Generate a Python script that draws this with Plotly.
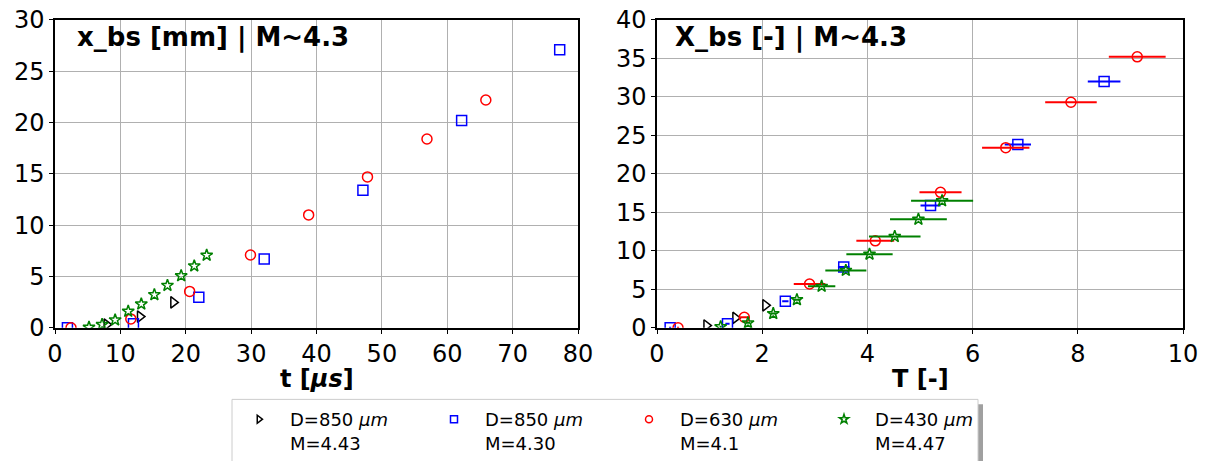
import plotly.graph_objects as go

# ---- data: left panel (t [us], x_bs [mm]) ----
t_k = [7.9, 13.0, 18.1]
x_k = [0.32, 1.10, 2.48]
t_b = [1.9, 12.0, 22.0, 32.0, 47.1, 62.2, 77.2]
x_b = [0.0, 0.39, 2.97, 6.7, 13.4, 20.2, 27.1]
t_r = [2.45, 11.6, 20.6, 29.9, 38.8, 47.8, 56.9, 65.9]
x_r = [0.0, 0.87, 3.55, 7.1, 11.0, 14.7, 18.4, 22.2]
t_g = [5.2, 7.2, 9.2, 11.2, 13.2, 15.2, 17.2, 19.3, 21.3, 23.2]
x_g = [0.06, 0.32, 0.77, 1.61, 2.32, 3.23, 4.13, 5.07, 6.03, 7.07]

# ---- data: right panel (T [-], X_bs [-], error on T) ----
T_k = [0.94, 1.49, 2.06]
X_k = [0.3, 1.29, 2.93]
T_b = [0.25, 1.34, 2.44, 3.55, 5.2, 6.86, 8.5]
X_b = [0.0, 0.52, 3.45, 7.9, 15.9, 23.8, 32.0]
E_b = [0.02, 0.04, 0.06, 0.11, 0.19, 0.25, 0.31]
T_r = [0.4, 1.66, 2.9, 4.15, 5.39, 6.63, 7.87, 9.13]
X_r = [0.0, 1.38, 5.7, 11.3, 17.6, 23.4, 29.3, 35.2]
E_r = [0.02, 0.08, 0.3, 0.36, 0.40, 0.45, 0.49, 0.54]
T_g = [1.21, 1.73, 2.21, 2.66, 3.13, 3.59, 4.04, 4.52, 4.97, 5.42]
X_g = [0.14, 0.65, 1.85, 3.66, 5.39, 7.46, 9.57, 11.86, 14.1, 16.5]
E_g = [0.02, 0.04, 0.05, 0.07, 0.26, 0.39, 0.44, 0.49, 0.54, 0.59]

names = ["D=850 <i>μm</i><br>M=4.43", "D=850 <i>μm</i><br>M=4.30",
         "D=630 <i>μm</i><br>M=4.1", "D=430 <i>μm</i><br>M=4.47"]
colors = ["black", "blue", "red", "green"]
symbols = ["triangle-right-open", "square-open", "circle-open", "star-open"]
sizes = [10, 10, 10, 9]

W, H = 1212, 461
def px(x): return x / W
def py(y): return (H - y) / H

fig = go.Figure()
left = [(t_k, x_k), (t_b, x_b), (t_r, x_r), (t_g, x_g)]
right = [(T_k, X_k, None), (T_b, X_b, E_b), (T_r, X_r, E_r), (T_g, X_g, E_g)]
for i in range(4):
    fig.add_trace(go.Scatter(
        x=left[i][0], y=left[i][1], mode="markers", name=names[i],
        marker=dict(symbol=symbols[i], color=colors[i], size=sizes[i],
                    line=dict(width=1.5, color=colors[i])),
        xaxis="x", yaxis="y", showlegend=False))
for i in range(4):
    T, X, E = right[i]
    err = dict(type="data", array=E, visible=True, color=colors[i],
               thickness=2, width=0) if E is not None else None
    fig.add_trace(go.Scatter(
        x=T, y=X, mode="markers", name=names[i], error_x=err,
        marker=dict(symbol=symbols[i], color=colors[i], size=sizes[i],
                    line=dict(width=1.5, color=colors[i])),
        xaxis="x2", yaxis="y2", showlegend=False))
# legend-only entries (small markers like the reference legend)
for i in range(4):
    fig.add_trace(go.Scatter(
        x=[None], y=[None], mode="markers", name=names[i],
        marker=dict(symbol=symbols[i], color=colors[i], size=7,
                    line=dict(width=1.5, color=colors[i])),
        xaxis="x", yaxis="y", showlegend=True))

axcommon = dict(showgrid=True, gridcolor="#b0b0b0", gridwidth=1,
                showline=True, linecolor="black", linewidth=1.5, mirror=True,
                ticks="outside", ticklen=4, tickcolor="black",
                tickfont=dict(size=24, color="black"), zeroline=False,
                automargin=False)
yd = [py(330), py(20)]
fig.update_layout(
    width=W, height=H, margin=dict(l=0, r=0, t=0, b=0),
    paper_bgcolor="white", plot_bgcolor="white",
    font=dict(family="DejaVu Sans", color="black"),
    xaxis=dict(domain=[px(55), px(578)], range=[0, 80], dtick=10,
               anchor="y", **axcommon),
    yaxis=dict(domain=yd, range=[0, 30], dtick=5, anchor="x", **axcommon),
    xaxis2=dict(domain=[px(657), px(1183)], range=[0, 10], dtick=2,
                anchor="y2", **axcommon),
    yaxis2=dict(domain=yd, range=[0, 40], dtick=5, anchor="x2", **axcommon),
    legend=dict(orientation="h", x=px(228), y=py(404), xanchor="left", yanchor="top",
                bgcolor="rgba(0,0,0,0)", borderwidth=0, itemwidth=52,
                font=dict(size=18), entrywidth=128, valign="top",
                tracegroupgap=0),
    annotations=[
        dict(text="<b>x_bs [mm] | M~4.3</b>", x=0.038, y=1.0, xref="x domain",
             yref="y domain", xanchor="left", yanchor="top", showarrow=False,
             font=dict(size=26)),
        dict(text="<b>X_bs [-] | M~4.3</b>", x=0.03, y=1.0, xref="x2 domain",
             yref="y2 domain", xanchor="left", yanchor="top", showarrow=False,
             font=dict(size=26)),
        dict(text="<b>t [<i>μs</i>]</b>", x=0.5, y=py(381), xref="x domain",
             yref="paper", xanchor="center", yanchor="middle", showarrow=False,
             font=dict(size=24)),
        dict(text="<b>T [-]</b>", x=0.5, y=py(381), xref="x2 domain",
             yref="paper", xanchor="center", yanchor="middle", showarrow=False,
             font=dict(size=24)),
    ],
    shapes=[
        dict(type="rect", xref="paper", yref="paper", x0=px(237), x1=px(983),
             y0=py(470), y1=py(407), fillcolor="#a0a0a0", line=dict(width=0),
             layer="below"),
        dict(type="rect", xref="paper", yref="paper", x0=px(232), x1=px(978),
             y0=py(466), y1=py(402), fillcolor="white",
             line=dict(width=1, color="#cccccc"), layer="below"),
    ],
)
fig.write_html("out.html", config={"displayModeBar": False},
               post_script="document.body.style.margin='0';")
